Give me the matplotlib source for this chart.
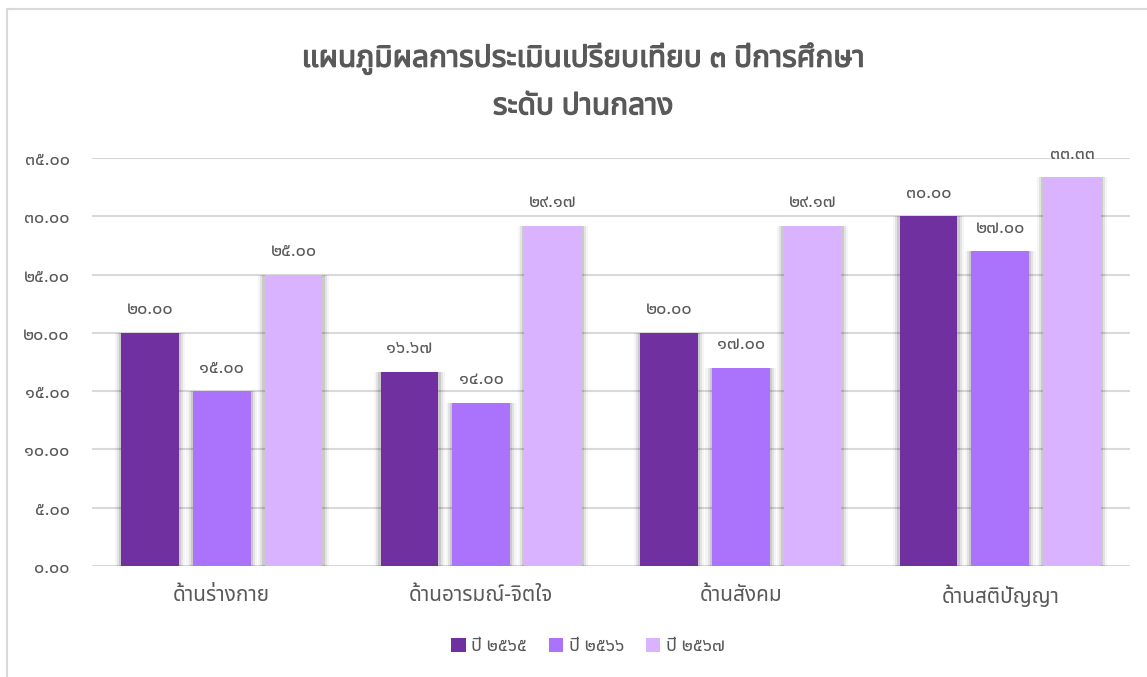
import matplotlib
matplotlib.use("Agg")
import matplotlib.pyplot as plt
import matplotlib.patheffects as pe
import numpy as np
from matplotlib.lines import Line2D
from matplotlib.ticker import FuncFormatter, MultipleLocator
from matplotlib.patches import Patch

categories = ["ด้านร่างกาย", "ด้านอารมณ์-จิตใจ", "ด้านสังคม", "ด้านสติปัญญา"]
series_names = ["ปี ๒๕๖๕", "ปี ๒๕๖๖", "ปี ๒๕๖๗"]
values_2565 = [20.00, 16.67, 20.00, 30.00]
values_2566 = [15.00, 14.00, 17.00, 27.00]
values_2567 = [25.00, 29.17, 29.17, 33.33]
title_text = "แผนภูมิผลการประเมินเปรียบเทียบ ๓ ปีการศึกษา\nระดับ ปานกลาง"

colors = ["#7030A0", "#AB72FC", "#D9B3FF"]
FONT = ["Noto Sans Thai", "Noto Sans Thai UI", "DejaVu Sans"]
TXT = "#595959"

THAI_DIGITS = str.maketrans("0123456789", "๐๑๒๓๔๕๖๗๘๙")


def thai(v):
    return f"{v:.2f}".translate(THAI_DIGITS)


fig = plt.figure(figsize=(11.47, 6.77), dpi=100)
ax = fig.add_axes([92 / 1147, 1 - 566 / 677, (1130 - 92) / 1147, (566 - 158) / 677])

x = np.arange(len(categories))
width = 0.222
step = 0.277
all_vals = [values_2565, values_2566, values_2567]

for i, vals in enumerate(all_vals):
    pos = x + (i - 1) * step
    # soft shadow
    for extra, a in [(0.05, 0.04), (0.034, 0.07), (0.018, 0.11)]:
        ax.bar(pos, np.array(vals) + 0.3, width=width + extra, bottom=-0.3,
               color="#000000", alpha=a, linewidth=0, zorder=2)
    ax.bar(pos, vals, width=width, color=colors[i], linewidth=0, zorder=3,
           label=series_names[i])
    for p, v in zip(pos, vals):
        ax.text(p, v + 1.25, thai(v), ha="center", va="bottom", fontsize=13,
                color=TXT, family=FONT, zorder=4)

ax.set_xlim(-0.5, len(categories) - 0.5)
ax.set_ylim(0, 35)
ax.yaxis.set_major_locator(MultipleLocator(5))
ax.yaxis.set_major_formatter(FuncFormatter(lambda v, p: thai(v)))
ax.grid(axis="y", color="#D9D9D9", linewidth=1.5, zorder=0)
ax.set_axisbelow(True)
for s in ax.spines.values():
    s.set_visible(False)
ax.tick_params(axis="both", length=0)
ax.tick_params(axis="y", pad=16, labelcolor=TXT, labelsize=13)
ax.tick_params(axis="x", pad=14, labelcolor=TXT, labelsize=15)
ax.set_xticks(x)
ax.set_xticklabels(categories)
for lab in ax.get_xticklabels() + ax.get_yticklabels():
    lab.set_family(FONT)

fig.text(583 / 1147, 1 - 82 / 677, title_text, ha="center", va="center",
         fontsize=21.5, fontweight="bold", color=TXT, family=FONT,
         linespacing=1.8,
         path_effects=[pe.withStroke(linewidth=0.9, foreground=TXT)])

handles = [Patch(facecolor=c, edgecolor="none") for c in colors]
leg = fig.legend(handles, series_names, loc="center", ncol=3,
                 bbox_to_anchor=(588 / 1147, 1 - 646 / 677), frameon=False,
                 handlelength=0.8, handleheight=0.8, handletextpad=0.3,
                 columnspacing=1.2, prop={"family": FONT, "size": 13})
for t in leg.get_texts():
    t.set_color(TXT)

# outer chart frame (left and top edges visible in reference)
fig.add_artist(Line2D([7 / 1147, 7 / 1147], [0, 1 - 9 / 677],
                      transform=fig.transFigure, color="#D9D9D9", linewidth=1.5))
fig.add_artist(Line2D([7 / 1147, 1], [1 - 9 / 677, 1 - 9 / 677],
                      transform=fig.transFigure, color="#D9D9D9", linewidth=1.5))

fig.savefig("out.png", dpi=100, facecolor="white")
